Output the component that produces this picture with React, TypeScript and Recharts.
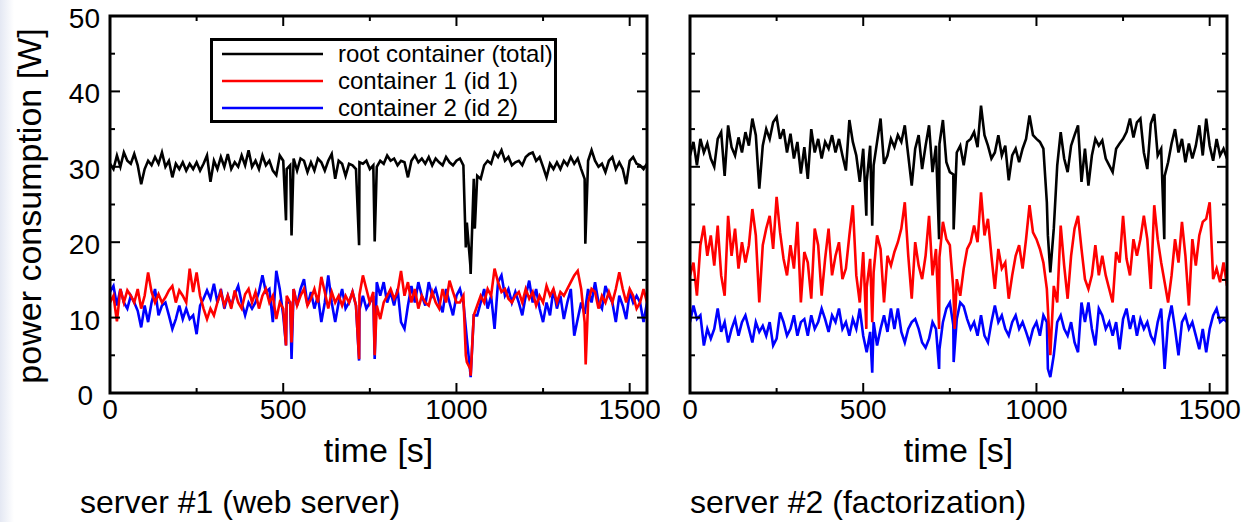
import React from 'react';
import { LineChart, Line, XAxis, YAxis } from 'recharts';

// sample spacing of the base series, seconds
const STEP = 10;

const X_TICKS = [0, 250, 500, 750, 1000, 1250, 1500];
const X_LABELS = [0, 500, 1000, 1500];
const Y_TICKS = [0, 5, 10, 15, 20, 25, 30, 35, 40, 45, 50];
const Y_LABELS = [0, 10, 20, 30, 40, 50];

const SERIES_NAMES = ['root container (total)', 'container 1 (id 1)', 'container 2 (id 2)'];
const PANEL_TITLES = ['server #1 (web server)', 'server #2 (factorization)'];

// server #1, power in W every 10 s from t=0 to t=1550
const web_root = [
  30.4, 29.7, 31.5, 30.0, 31.9, 30.8, 30.4, 31.7, 30.2, 27.7,
  29.7, 30.8, 30.2, 31.3, 30.4, 31.9, 30.0, 30.8, 28.6, 30.4,
  29.7, 30.6, 29.5, 30.4, 29.7, 30.6, 29.5, 30.4, 31.5, 28.0,
  30.8, 29.7, 31.3, 30.0, 31.7, 29.7, 30.6, 30.0, 31.5, 30.2,
  32.2, 30.0, 30.8, 29.7, 31.5, 30.2, 30.8, 29.5, 28.9, 31.5,
  30.8, 29.7, 30.2, 31.1, 29.5, 31.1, 30.8, 29.3, 30.6, 29.5,
  31.1, 30.6, 29.5, 30.8, 31.7, 28.4, 30.8, 30.4, 28.8, 30.4,
  30.2, 29.7, 30.6, 30.4, 30.8, 29.7, 30.2, 30.0, 30.8, 30.4,
  31.5, 30.8, 31.1, 30.2, 30.8, 30.6, 28.6, 30.8, 31.5, 30.6,
  31.1, 30.4, 31.3, 30.2, 31.1, 30.6, 30.2, 31.3, 30.6, 30.2,
  30.8, 31.1, 30.2, 22.6, 17.0, 28.4, 28.8, 28.4, 30.2, 30.8,
  30.4, 31.9, 31.3, 32.2, 30.8, 31.3, 30.2, 30.6, 30.8, 30.2,
  31.3, 31.7, 31.9, 30.8, 31.3, 30.0, 28.6, 30.4, 29.7, 30.6,
  29.7, 30.8, 30.2, 31.3, 30.4, 31.1, 29.7, 28.4, 30.8, 32.2,
  30.8, 30.0, 30.4, 29.3, 30.8, 31.3, 29.7, 30.6, 29.7, 27.7,
  30.8, 31.3, 30.4, 30.2, 29.7, 30.4,
];
const web_c1 = [
  12.0, 12.9, 9.5, 13.8, 12.0, 13.6, 12.9, 12.0, 13.8, 11.2,
  12.9, 16.0, 13.4, 12.0, 13.1, 12.0, 12.7, 13.6, 14.2, 12.0,
  13.6, 12.9, 12.0, 16.5, 13.4, 16.0, 12.9, 11.2, 9.8, 11.2,
  10.3, 12.0, 13.4, 11.6, 12.9, 11.2, 13.6, 12.0, 11.2, 13.1,
  13.8, 12.0, 13.4, 11.2, 12.9, 13.8, 12.0, 12.9, 9.8, 12.0,
  11.2, 12.9, 12.0, 13.8, 11.6, 12.9, 13.8, 11.6, 12.5, 13.8,
  12.0, 15.4, 13.4, 11.2, 13.4, 12.0, 12.9, 11.6, 12.9, 12.0,
  13.4, 11.6, 13.0, 15.6, 13.8, 12.0, 13.4, 11.6, 9.8, 12.0,
  12.9, 13.8, 12.5, 13.4, 16.2, 12.9, 14.7, 12.0, 13.8, 11.2,
  12.9, 12.0, 11.6, 13.4, 12.0, 11.2, 13.8, 12.0, 14.9, 13.4,
  12.0, 12.0, 12.9, 4.1, 3.2, 10.3, 11.6, 12.9, 12.0, 13.8,
  12.9, 16.5, 14.7, 13.4, 13.8, 12.5, 12.0, 12.9, 13.4, 12.0,
  13.8, 12.5, 13.4, 11.6, 12.9, 12.0, 14.2, 12.9, 13.8, 12.0,
  13.4, 12.9, 13.8, 14.7, 15.6, 16.2, 13.8, 9.4, 12.0, 13.8,
  13.4, 11.2, 12.9, 12.0, 13.4, 12.0, 13.8, 16.0, 13.8, 12.0,
  13.8, 12.9, 11.2, 12.0, 13.8, 12.0,
];
const web_c2 = [
  13.4, 14.2, 11.6, 13.8, 12.0, 11.2, 12.9, 12.0, 10.9, 8.7,
  11.6, 9.4, 12.0, 13.8, 10.3, 11.6, 12.0, 10.3, 8.5, 9.8,
  11.6, 9.8, 11.2, 9.8, 10.3, 7.8, 11.6, 12.5, 13.6, 12.5,
  14.5, 12.0, 13.8, 11.2, 12.9, 11.6, 13.1, 14.2, 12.0, 10.3,
  12.0, 11.2, 12.0, 13.4, 15.6, 13.4, 13.8, 9.4, 16.2, 13.8,
  10.3, 12.0, 12.0, 13.8, 11.6, 13.8, 15.1, 11.6, 13.4, 11.2,
  12.9, 9.4, 12.0, 15.6, 12.0, 9.4, 12.0, 13.8, 11.2, 12.0,
  13.4, 11.6, 11.0, 12.9, 11.2, 12.0, 12.9, 14.7, 12.9, 14.7,
  12.0, 13.4, 11.6, 13.8, 9.4, 8.5, 11.6, 14.2, 12.0, 14.7,
  12.9, 11.6, 14.7, 12.9, 13.8, 12.0, 10.7, 13.8, 12.0, 10.3,
  12.9, 13.8, 12.0, 7.2, 2.7, 10.3, 10.3, 12.0, 13.8, 11.2,
  12.9, 8.5, 14.7, 15.6, 12.9, 13.8, 12.0, 13.4, 12.0, 10.3,
  12.9, 14.9, 12.0, 13.8, 11.2, 9.4, 12.0, 10.3, 13.8, 11.2,
  12.9, 9.8, 12.0, 13.8, 7.6, 9.8, 12.0, 10.5, 13.8, 12.0,
  14.7, 12.0, 11.2, 14.2, 12.9, 12.0, 9.4, 12.9, 11.6, 9.8,
  13.4, 12.0, 12.9, 12.0, 9.4, 12.0,
];
// short drops between samples: [time s, W]
const web_root_dips = [[508, 22.9], [524, 20.9], [719, 19.6], [764, 20.1], [1027, 19.3], [1041, 15.8], [1053, 21.8], [1372, 19.8]];
const web_c1_dips = [[508, 6.3], [524, 6.7], [719, 4.5], [764, 5.0], [1027, 5.0], [1041, 2.3], [1373, 3.8]];
const web_c2_dips = [[508, 6.3], [524, 4.5], [719, 4.3], [764, 4.5], [1041, 2.1]];

// server #2
const fact_root = [
  31.5, 33.3, 30.2, 33.7, 31.9, 33.1, 31.1, 30.0, 33.7, 34.6,
  28.8, 35.5, 32.6, 31.5, 33.9, 31.9, 34.6, 32.8, 36.4, 34.2,
  27.1, 32.8, 35.0, 33.7, 35.9, 36.6, 33.7, 35.0, 31.9, 34.4,
  31.1, 33.3, 29.1, 32.6, 28.4, 35.0, 31.9, 33.7, 31.1, 33.3,
  32.4, 34.2, 31.9, 33.7, 31.5, 29.5, 36.2, 33.3, 31.5, 28.0,
  32.4, 28.0, 32.8, 30.2, 33.3, 36.4, 30.4, 31.5, 33.7, 32.6,
  34.2, 33.3, 35.5, 31.5, 27.5, 32.4, 34.2, 29.7, 32.8, 35.5,
  29.3, 32.8, 33.0, 36.2, 30.6, 29.3, 29.0, 31.9, 32.8, 30.2,
  33.3, 33.7, 34.6, 32.6, 38.1, 34.2, 32.8, 31.1, 31.9, 34.2,
  31.5, 32.8, 28.2, 31.5, 32.4, 30.6, 32.4, 33.7, 36.8, 34.2,
  33.7, 33.3, 32.4, 25.3, 16.0, 21.8, 30.2, 34.6, 31.1, 29.3,
  32.8, 34.2, 35.5, 28.0, 32.4, 27.5, 31.5, 33.7, 32.8, 33.5,
  31.1, 30.2, 29.3, 32.4, 33.1, 33.7, 34.6, 36.4, 33.9, 35.9,
  36.4, 31.9, 29.7, 35.7, 37.0, 31.5, 32.4, 28.8, 30.6, 33.1,
  35.0, 31.9, 33.7, 30.6, 33.1, 31.1, 32.8, 35.5, 31.5, 36.4,
  32.8, 30.8, 33.7, 31.5, 32.4, 31.1,
];
const fact_c1 = [
  15.6, 17.3, 12.9, 19.6, 22.2, 18.2, 20.9, 16.9, 22.2, 15.6,
  12.9, 23.5, 18.2, 21.8, 16.5, 20.0, 17.3, 19.6, 24.4, 20.9,
  12.0, 19.6, 21.8, 23.5, 19.1, 26.0, 21.3, 17.8, 15.6, 19.6,
  16.5, 22.7, 12.0, 18.7, 17.3, 12.5, 21.8, 19.6, 12.9, 17.8,
  21.8, 15.6, 18.2, 20.0, 15.1, 16.5, 20.9, 24.9, 15.6, 12.0,
  18.7, 14.0, 17.8, 16.0, 20.9, 19.1, 12.0, 18.2, 16.9, 18.7,
  20.0, 21.8, 25.3, 18.2, 12.5, 20.0, 16.9, 15.1, 18.2, 23.5,
  15.6, 19.1, 18.0, 22.7, 20.4, 19.6, 13.8, 15.1, 12.9, 16.5,
  19.1, 20.0, 22.2, 20.0, 26.6, 20.9, 23.1, 18.2, 13.8, 19.1,
  16.5, 17.3, 12.5, 15.6, 18.2, 19.6, 16.5, 20.4, 24.9, 21.3,
  20.4, 19.1, 17.3, 13.8, 5.0, 14.2, 12.0, 22.2, 16.9, 12.5,
  18.2, 21.8, 23.5, 19.1, 15.1, 13.8, 15.6, 19.6, 15.6, 18.2,
  15.6, 13.8, 12.0, 18.7, 17.3, 23.5, 17.8, 15.6, 20.4, 18.2,
  20.4, 23.5, 20.4, 13.8, 24.9, 20.4, 17.3, 14.7, 12.0, 15.6,
  20.4, 17.3, 22.7, 18.2, 11.6, 20.4, 16.9, 20.9, 22.7, 23.1,
  25.3, 15.1, 16.5, 14.7, 17.3, 14.2,
];
const fact_c2 = [
  9.4, 11.6, 9.8, 10.3, 6.3, 8.5, 7.2, 8.5, 11.2, 8.1,
  9.4, 6.7, 8.5, 9.8, 7.6, 9.4, 10.3, 8.5, 6.7, 9.4,
  8.1, 8.9, 7.6, 9.4, 6.3, 7.2, 10.7, 9.4, 7.6, 8.5,
  10.3, 7.6, 9.4, 9.8, 7.6, 10.3, 8.5, 9.4, 11.2, 9.8,
  8.1, 10.3, 9.4, 11.2, 8.5, 9.4, 7.6, 9.8, 8.5, 11.2,
  7.6, 5.4, 8.1, 9.4, 6.3, 8.5, 10.3, 8.1, 11.2, 8.5,
  11.2, 8.1, 6.7, 8.5, 9.4, 9.8, 8.5, 6.7, 6.0, 7.2,
  9.4, 8.5, 5.8, 9.4, 11.2, 12.0, 9.0, 9.8, 12.0, 11.5,
  9.8, 8.5, 9.4, 7.6, 10.3, 7.6, 6.7, 9.4, 11.6, 9.4,
  10.3, 8.5, 7.6, 9.4, 10.3, 8.5, 9.4, 8.1, 6.7, 8.5,
  9.4, 7.6, 10.3, 9.4, 2.1, 5.0, 9.4, 10.3, 8.5, 7.6,
  9.4, 6.7, 5.4, 12.0, 9.4, 12.0, 8.5, 6.3, 11.2, 10.3,
  8.5, 9.4, 7.6, 9.4, 5.8, 9.8, 11.2, 8.5, 10.3, 7.6,
  9.8, 8.5, 9.4, 7.6, 6.7, 9.4, 11.2, 3.2, 9.4, 11.6,
  8.5, 5.0, 9.4, 10.3, 8.5, 9.4, 7.6, 5.8, 8.5, 5.4,
  8.5, 10.3, 11.2, 9.4, 9.8, 9.4,
];
const fact_root_dips = [[509, 23.5], [526, 22.2], [719, 20.4], [761, 21.7], [1033, 20.9], [1369, 20.4]];
const fact_c1_dips = [[509, 8.5], [526, 9.4], [719, 8.5], [764, 8.5]];
const fact_c2_dips = [[526, 2.7], [719, 3.2], [761, 4.1], [1033, 3.2]];

const COLORS = ['#000000', '#ff0000', '#0000ff'];
const FONT = '"Liberation Sans", Arial, Helvetica, sans-serif';

// plot box geometry
const PLOT_TOP = 16;
const PLOT_H = 377;
const PLOT_W = 537;
const CHART_H = 522;
const AXIS_W = 40;
const AXIS_H = 30;

const toPoints = (base: number[], dips: number[][]) =>
  base
    .map((w, i) => ({ t: i * STEP, w }))
    .concat(dips.map(([t, w]) => ({ t, w })))
    .sort((a, b) => a.t - b.t);

function Panel({ left, padLeft, width, root, c1, c2, labels }: any) {
  const plotRight = padLeft + PLOT_W;
  const plotBottom = PLOT_TOP + PLOT_H;

  const xTick = (p: any) => {
    const v = p.payload.value;
    const major = X_LABELS.includes(v);
    const len = major ? 10 : 5;
    return (
      <g>
        <line x1={p.x} y1={plotBottom} x2={p.x} y2={plotBottom - len} stroke="#000" strokeWidth={2} />
        <line x1={p.x} y1={PLOT_TOP} x2={p.x} y2={PLOT_TOP + len} stroke="#000" strokeWidth={2} />
        {major && (
          <text x={p.x} y={plotBottom + 26} textAnchor="middle" fontSize={28} fontFamily={FONT} fill="#000">
            {v}
          </text>
        )}
      </g>
    );
  };

  const yTick = (p: any) => {
    const v = p.payload.value;
    const major = Y_LABELS.includes(v);
    const len = major ? 10 : 5;
    return (
      <g>
        <line x1={padLeft} y1={p.y} x2={padLeft + len} y2={p.y} stroke="#000" strokeWidth={2} />
        <line x1={plotRight} y1={p.y} x2={plotRight - len} y2={p.y} stroke="#000" strokeWidth={2} />
        {labels && major && (
          <text x={padLeft - (v === 0 ? 17 : 10)} y={p.y + 12} textAnchor="end" fontSize={28} fontFamily={FONT} fill="#000">
            {v}
          </text>
        )}
      </g>
    );
  };

  return (
    <div style={{ position: 'absolute', left, top: 0 }}>
      <LineChart
        width={width}
        height={CHART_H}
        margin={{
          top: PLOT_TOP,
          right: width - plotRight,
          bottom: CHART_H - PLOT_TOP - PLOT_H - AXIS_H,
          left: padLeft - AXIS_W,
        }}
      >
        <XAxis
          dataKey="t"
          type="number"
          domain={[0, 1550]}
          ticks={X_TICKS}
          interval={0}
          height={AXIS_H}
          tickSize={0}
          tickMargin={0}
          axisLine={false}
          tickLine={false}
          tick={xTick}
          allowDataOverflow
        />
        <YAxis
          type="number"
          domain={[0, 50]}
          ticks={Y_TICKS}
          interval={0}
          width={AXIS_W}
          tickSize={0}
          tickMargin={0}
          axisLine={false}
          tickLine={false}
          tick={yTick}
          allowDataOverflow
        />
        <Line data={root} dataKey="w" stroke={COLORS[0]} strokeWidth={2.6} dot={false} isAnimationActive={false} />
        <Line data={c2} dataKey="w" stroke={COLORS[2]} strokeWidth={2.6} dot={false} isAnimationActive={false} />
        <Line data={c1} dataKey="w" stroke={COLORS[1]} strokeWidth={2.6} dot={false} isAnimationActive={false} />
      </LineChart>
    </div>
  );
}

export default function App() {
  const legendRows = [54, 81, 108];
  return (
    <div style={{ position: 'absolute', left: 0, top: 0, width: 1254, height: 522, background: '#fff', fontFamily: FONT, overflow: 'hidden' }}>
      <div style={{ position: 'absolute', left: 0, top: 0, width: 14, height: 522, background: 'linear-gradient(to right, #e4e8f3, #ffffff)' }} />
      <Panel
        left={0}
        padLeft={110}
        width={660}
        root={toPoints(web_root, web_root_dips)}
        c1={toPoints(web_c1, web_c1_dips)}
        c2={toPoints(web_c2, web_c2_dips)}
        labels
      />
      <Panel
        left={640}
        padLeft={50}
        width={614}
        root={toPoints(fact_root, fact_root_dips)}
        c1={toPoints(fact_c1, fact_c1_dips)}
        c2={toPoints(fact_c2, fact_c2_dips)}
        labels={false}
      />
      <svg width={1254} height={522} style={{ position: 'absolute', left: 0, top: 0, pointerEvents: 'none' }}>
        <rect x={110} y={PLOT_TOP} width={PLOT_W} height={PLOT_H} fill="none" stroke="#000" strokeWidth={3} />
        <rect x={690} y={PLOT_TOP} width={PLOT_W} height={PLOT_H} fill="none" stroke="#000" strokeWidth={3} />

        <text transform="translate(41,206) rotate(-90)" textAnchor="middle" fontSize={34} fontFamily={FONT} fill="#000">
          power consumption [W]
        </text>
        <text x={378.5} y={462} textAnchor="middle" fontSize={34} fontFamily={FONT} fill="#000">time [s]</text>
        <text x={958.5} y={462} textAnchor="middle" fontSize={34} fontFamily={FONT} fill="#000">time [s]</text>
        <text x={80} y={513} fontSize={32} fontFamily={FONT} fill="#000">{PANEL_TITLES[0]}</text>
        <text x={690} y={513} fontSize={32} fontFamily={FONT} fill="#000">{PANEL_TITLES[1]}</text>

        <rect x={211.5} y={39.5} width={344} height={82} fill="#fff" stroke="#000" strokeWidth={3} />
        {SERIES_NAMES.map((name, i) => (
          <g key={name}>
            <line x1={222} y1={legendRows[i]} x2={323} y2={legendRows[i]} stroke={COLORS[i]} strokeWidth={2.5} />
            <text x={338} y={legendRows[i] + 8} fontSize={24} fontFamily={FONT} fill="#000">{name}</text>
          </g>
        ))}
      </svg>
    </div>
  );
}
